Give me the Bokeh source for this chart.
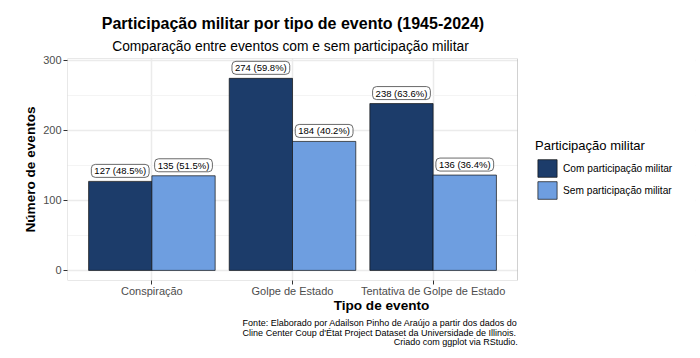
from bokeh.plotting import figure
from bokeh.models import (ColumnDataSource, FixedTicker, Legend, LegendItem,
                          Title, Range1d, BoxAnnotation)
from bokeh.core.properties import value
from bokeh.embed import file_html
from bokeh.resources import INLINE

# ---- data ----
categorias = ["Conspiração", "Golpe de Estado", "Tentativa de Golpe de Estado"]
com_participacao = [127, 274, 238]
sem_participacao = [135, 184, 136]
pct_com = [48.5, 59.8, 63.6]
pct_sem = [51.5, 40.2, 36.4]
series = ["Com participação militar", "Sem participação militar"]
cores = ["#1C3C6A", "#6E9EE0"]
y_ticks = [0, 100, 200, 300]
y_minor = [50, 150, 250]

titulo = "Participação militar por tipo de evento (1945-2024)"
subtitulo = "Comparação entre eventos com e sem participação militar"
legenda_titulo = "Participação militar"
eixo_x = "Tipo de evento"
eixo_y = "Número de eventos"
fonte_linhas = [
    "Fonte: Elaborado por Adailson Pinho de Araújo a partir dos dados do",
    "Cline Center Coup d'État Project Dataset da Universidade de Illinois.",
    "Criado com ggplot via RStudio.",
]

FONT = "Liberation Sans"
W, H = 700, 358
ML, MR, MT, MB = 67, 5, 58, 78
PANEL_W = 450                    # width of the data panel in px
FRAME_W = W - ML - MR            # frame also hosts the legend area

# panel limits (ggplot-style expansion)
X_LO, X_HI = 0.4, 3.6
Y_LO, Y_HI = -14.4, 302.3
x_end = X_LO + (X_HI - X_LO) * FRAME_W / PANEL_W

# are negative standoffs accepted?
try:
    Title(text="t", standoff=-2.0)
    neg_ok = True
except Exception:
    neg_ok = False

pos = list(range(1, len(categorias) + 1))
dodge = 0.225
bar_w = 0.45

src_com = ColumnDataSource(dict(
    x=[c - dodge for c in pos], top=com_participacao,
    label=[f"{n} ({p:.1f}%)" for n, p in zip(com_participacao, pct_com)]))
src_sem = ColumnDataSource(dict(
    x=[c + dodge for c in pos], top=sem_participacao,
    label=[f"{n} ({p:.1f}%)" for n, p in zip(sem_participacao, pct_sem)]))

p = figure(width=W, height=H, output_backend="svg", toolbar_location=None,
           x_range=Range1d(X_LO, x_end), y_range=Range1d(Y_LO, Y_HI),
           min_border_left=ML, min_border_right=MR,
           min_border_top=MT, min_border_bottom=MB)
p.background_fill_color = "white"
p.border_fill_color = "white"
p.outline_line_color = None

# grids
p.xgrid.grid_line_color = "#EBEBEB"
p.xgrid.grid_line_width = 1.5
p.ygrid.grid_line_color = "#EBEBEB"
p.ygrid.grid_line_width = 1.5
p.ygrid.minor_grid_line_color = "#F1F1F1"
p.ygrid.minor_grid_line_width = 0.8
p.xgrid.level = "underlay"
p.ygrid.level = "underlay"

r_com = p.vbar(x="x", top="top", bottom=0, width=bar_w, source=src_com,
               fill_color=cores[0], line_color="#111111", line_width=0.7)
r_sem = p.vbar(x="x", top="top", bottom=0, width=bar_w, source=src_sem,
               fill_color=cores[1], line_color="#111111", line_width=0.7)

for src in (src_com, src_sem):
    p.text(x="x", y="top", text="label", source=src,
           text_font=value(FONT), text_font_size="9.5px", text_color="black",
           text_align="center", text_baseline="bottom", y_offset=-4,
           background_fill_color="white", border_line_color="#444444",
           border_line_width=0.8, border_radius=4,
           padding=dict(left=3, right=3, top=1, bottom=1))

# blank legend area to the right of the panel, then the panel border
p.add_layout(BoxAnnotation(left=X_HI, right=x_end, bottom=Y_LO, top=Y_HI,
                           fill_color="white", fill_alpha=1.0,
                           line_color=None))
p.add_layout(BoxAnnotation(left=X_LO, right=X_HI, bottom=Y_LO, top=Y_HI,
                           fill_alpha=0.0, line_color="#666666",
                           line_width=1))

# axes
p.xaxis.ticker = FixedTicker(ticks=pos)
p.xaxis.major_label_overrides = {c: n for c, n in zip(pos, categorias)}
p.xaxis.bounds = (X_LO, X_HI)
p.yaxis.ticker = FixedTicker(ticks=y_ticks, minor_ticks=y_minor)
for ax in (p.xaxis[0], p.yaxis[0]):
    ax.axis_line_color = None
    ax.major_tick_line_color = "#333333"
    ax.major_tick_out = 4
    ax.major_tick_in = 0
    ax.minor_tick_line_color = None
    ax.major_label_text_font = FONT
    ax.major_label_text_font_size = "11px"
    ax.major_label_text_color = "#4D4D4D"
    ax.axis_label_text_font = FONT
    ax.axis_label_text_font_size = "13.6px"
    ax.axis_label_text_font_style = "bold"
    ax.axis_label_text_color = "black"
p.yaxis.major_label_standoff = 2
p.xaxis.major_label_standoff = 0
p.xaxis.axis_label = eixo_x
p.yaxis.axis_label = eixo_y
shrink = 2
try:
    p.xaxis.axis_label_standoff = -2
    shrink = 4
except Exception:
    p.xaxis.axis_label_standoff = 0
p.yaxis.axis_label_standoff = 2

# legend inside the (extended) frame, right of the panel
legend = Legend(items=[LegendItem(label=series[0], renderers=[r_com]),
                       LegendItem(label=series[1], renderers=[r_sem])],
                location=(468, 79), orientation="vertical",
                title=legenda_titulo,
                title_text_font=FONT, title_text_font_size="13px",
                title_text_font_style="normal", title_text_color="black",
                title_standoff=4,
                label_text_font=FONT, label_text_font_size="10.2px",
                label_text_color="black", label_standoff=4,
                glyph_width=24, glyph_height=22, spacing=0,
                padding=0, margin=0, border_line_color=None,
                background_fill_alpha=0)
p.add_layout(legend, "center")

# title + subtitle (first added = nearest to the frame), centred on the panel
p.add_layout(Title(text=subtitulo, align="left", offset=44.7,
                   vertical_align="bottom",
                   text_font=FONT, text_font_size="13.8px",
                   text_font_style="normal", text_color="black",
                   standoff=10), "above")
p.add_layout(Title(text=titulo, align="left", offset=34.3,
                   vertical_align="bottom",
                   text_font=FONT, text_font_size="16px",
                   text_font_style="bold", text_color="black",
                   standoff=0), "above")

# caption below the x axis, right aligned to the panel's right edge
cap_offset = FRAME_W - PANEL_W - 0.3
s_a = 2 * (shrink - 1.3)
s_b = (-4.7 - s_a) if neg_ok else 0
p.add_layout(Title(text="\n".join(fonte_linhas[:2]), align="right",
                   offset=cap_offset, vertical_align="top", text_font=FONT,
                   text_font_size="9px", text_font_style="normal",
                   text_color="black", text_line_height=0.965,
                   standoff=s_a), "below")
p.add_layout(Title(text=fonte_linhas[2], align="right",
                   offset=cap_offset, vertical_align="top", text_font=FONT,
                   text_font_size="9px", text_font_style="normal",
                   text_color="black", standoff=s_b), "below")

open("out.html", "w").write(file_html(p, INLINE))
